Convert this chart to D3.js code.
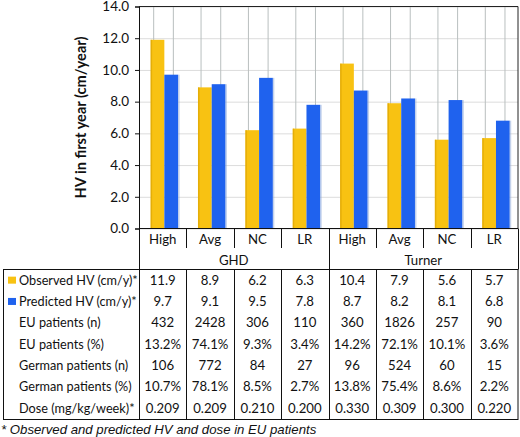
<!DOCTYPE html>
<html><head><meta charset="utf-8">
<script src="https://cdn.jsdelivr.net/npm/d3@7"></script>
<style>body{margin:0;background:#fff}svg{display:block}</style>
</head><body>
<svg id="c" width="520" height="437"></svg>
<script>
const groups = ["GHD", "Turner"];
const categories = ["High", "Avg", "NC", "LR", "High", "Avg", "NC", "LR"];
const observed = [11.9, 8.9, 6.2, 6.3, 10.4, 7.9, 5.6, 5.7];
const predicted = [9.7, 9.1, 9.5, 7.8, 8.7, 8.2, 8.1, 6.8];
const yTicks = [0, 2, 4, 6, 8, 10, 12, 14];
const rowLabels = ["Observed HV (cm/y)*", "Predicted HV (cm/y)*", "EU patients (n)", "EU patients (%)", "German patients (n)", "German patients (%)", "Dose (mg/kg/week)*"];
const euN = ["432", "2428", "306", "110", "360", "1826", "257", "90"];
const euPct = ["13.2%", "74.1%", "9.3%", "3.4%", "14.2%", "72.1%", "10.1%", "3.6%"];
const deN = ["106", "772", "84", "27", "96", "524", "60", "15"];
const dePct = ["10.7%", "78.1%", "8.5%", "2.7%", "13.8%", "75.4%", "8.6%", "2.2%"];
const dose = ["0.209", "0.209", "0.210", "0.200", "0.330", "0.309", "0.300", "0.220"];
const yTitle = "HV in first year (cm/year)";
const footnote = "* Observed and predicted HV and dose in EU patients";

const YEL = "#F8C212", BLU = "#1F62EE";
const svg = d3.select("#c");
const L = 139, R = 518, T = 6.5, B = 228.5;
const x = d3.scaleBand().domain(d3.range(categories.length)).range([L, R]);
const y = d3.scaleLinear().domain([0, 14]).range([B, T]);
const bw = x.bandwidth();
const font = "Lato, 'Open Sans', sans-serif";
const FS = 13.2, LFS = 12.7;

// horizontal gridlines
svg.append("g").selectAll("line").data(yTicks).join("line")
  .attr("x1", L).attr("x2", R).attr("y1", d => y(d) + .5).attr("y2", d => y(d) + .5)
  .attr("stroke", "#dcdcdc").attr("stroke-width", 1);
// vertical gridlines (two per category)
const vg = [];
categories.forEach((c, i) => { vg.push(x(i) + bw * 0.31); vg.push(x(i) + bw * 0.725); });
svg.append("g").selectAll("line").data(vg).join("line")
  .attr("x1", d => d).attr("x2", d => d).attr("y1", T).attr("y2", B)
  .attr("stroke", "#b9bfbf").attr("stroke-width", 1);

// bars
const bx0 = bw * 0.245, bwid = bw * 0.29;
const gb = svg.append("g");
gb.selectAll(".o").data(observed).join("rect")
  .attr("x", (d, i) => x(i) + bx0).attr("width", bwid)
  .attr("y", d => y(d)).attr("height", d => B - y(d)).attr("fill", YEL);
gb.selectAll(".p").data(predicted).join("rect")
  .attr("x", (d, i) => x(i) + bx0 + bwid).attr("width", bwid)
  .attr("y", d => y(d)).attr("height", d => B - y(d)).attr("fill", BLU);
// subtle shading on edges
gb.selectAll(".os").data(observed).join("rect")
  .attr("x", (d, i) => x(i) + bx0).attr("width", 1.5)
  .attr("y", d => y(d)).attr("height", d => B - y(d)).attr("fill", "#d9a000").attr("opacity", .6);
gb.selectAll(".ps").data(predicted).join("rect")
  .attr("x", (d, i) => x(i) + bx0 + 2 * bwid).attr("width", 1.5)
  .attr("y", d => y(d)).attr("height", d => B - y(d)).attr("fill", "#8aa6d8").attr("opacity", .5);

// plot frame top/right
svg.append("path").attr("d", `M${L},${T}H${R}V${B}`).attr("fill", "none").attr("stroke", "#222").attr("stroke-width", 1);

// y axis
const ya = svg.append("g").attr("transform", `translate(${L},0)`)
  .call(d3.axisLeft(y).tickValues(yTicks).tickFormat(d3.format(".1f")).tickSize(4).tickPadding(6));
ya.select(".domain").attr("stroke", "#111");
ya.selectAll(".tick line").attr("stroke", "#111");
ya.selectAll("text").attr("font-family", font).attr("font-size", 13.5).attr("fill", "#111");
svg.append("text").attr("transform", `translate(86,${(T + B) / 2}) rotate(-90)`)
  .attr("text-anchor", "middle").attr("font-family", font).attr("font-weight", "bold")
  .attr("font-size", 14.6).attr("fill", "#111").text(yTitle);

// category label area
const tTop = 269.5, rowH = 21.3, tBot = 419.5, tLeft = 3.5;
svg.append("line").attr("x1", L).attr("x2", R).attr("y1", B).attr("y2", B).attr("stroke", "#111");
svg.append("g").selectAll("text").data(categories).join("text")
  .attr("x", (d, i) => x(i) + bw / 2).attr("y", 243.5).attr("text-anchor", "middle")
  .attr("font-family", font).attr("font-size", FS).attr("fill", "#111").text(d => d);
// short separators
svg.append("g").selectAll("line").data(d3.range(1, categories.length).filter(i => i !== 4)).join("line")
  .attr("x1", i => Math.round(x(i)) + .5).attr("x2", i => Math.round(x(i)) + .5)
  .attr("y1", B).attr("y2", 248).attr("stroke", "#111");
// group labels and separators
svg.append("g").selectAll("text").data(groups).join("text")
  .attr("x", (d, i) => x(i * 4) + bw * 2).attr("y", 264.5).attr("text-anchor", "middle")
  .attr("font-family", font).attr("font-size", FS).attr("fill", "#111").text(d => d);
[L, x(4), R].forEach(px => svg.append("line").attr("x1", Math.round(px) + .5).attr("x2", Math.round(px) + .5)
  .attr("y1", B).attr("y2", tTop).attr("stroke", "#111"));

// table
svg.append("rect").attr("x", tLeft).attr("y", tTop).attr("width", R - tLeft).attr("height", tBot - tTop)
  .attr("fill", "none").attr("stroke", "#111");
svg.append("g").selectAll("line").data(d3.range(0, categories.length)).join("line")
  .attr("x1", i => Math.round(x(i)) + .5).attr("x2", i => Math.round(x(i)) + .5)
  .attr("y1", tTop).attr("y2", tBot).attr("stroke", "#111");
const rows = [observed.map(v => v.toFixed(1)), predicted.map(v => v.toFixed(1)), euN, euPct, deN, dePct, dose];
const tg = svg.append("g").attr("font-family", font).attr("font-size", FS).attr("fill", "#111");
rowLabels.forEach((lab, r) => {
  const yy = tTop + rowH * (r + 0.5) + 4.7;
  tg.append("text").attr("x", 19).attr("y", yy).attr("font-size", LFS).text(lab);
  rows[r].forEach((v, i) => tg.append("text").attr("x", x(i) + bw / 2).attr("y", yy).attr("text-anchor", "middle").text(v));
});
[YEL, BLU].forEach((c, r) => svg.append("rect").attr("x", 8).attr("y", tTop + rowH * (r + 0.5) - 3.5)
  .attr("width", 8).attr("height", 7).attr("fill", c));

svg.append("text").attr("x", 1).attr("y", 433.5).attr("font-family", "'Liberation Sans', Arial, sans-serif")
  .attr("font-style", "italic").attr("font-size", 13.2).attr("fill", "#111").text(footnote);
</script>
</body></html>
